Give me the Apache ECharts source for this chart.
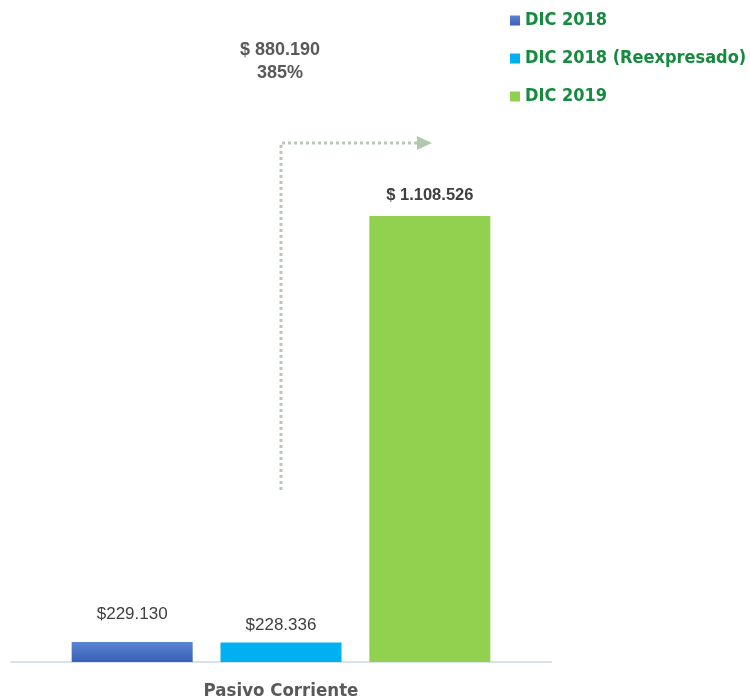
<!DOCTYPE html>
<html>
<head>
<meta charset="utf-8">
<script src="https://cdn.jsdelivr.net/npm/echarts@6/dist/echarts.min.js"></script>
<style>html,body{margin:0;padding:0;background:#fff}#c{width:750px;height:699px}</style>
</head>
<body>
<div id="c"></div>
<script>
var categories = ['Pasivo Corriente'];
var seriesNames = ['DIC 2018', 'DIC 2018 (Reexpresado)', 'DIC 2019'];
var dic2018 = [229130];
var dic2018Re = [228336];
var dic2019 = [1108526];
var labelTexts = ['$229.130', '$228.336', '$ 1.108.526'];
var annotationLines = ['$ 880.190', '385%'];

var chart = echarts.init(document.getElementById('c'));
var labelColor = '#404040';
chart.setOption({
  animation: false,
  legend: {
    orient: 'vertical',
    left: 505,
    top: 5,
    itemWidth: 10,
    itemHeight: 10,
    itemGap: 17,
    icon: 'rect',
    textStyle: { color: '#168A3E', fontSize: 18, fontWeight: 'bold', fontFamily: 'DejaVu Sans Condensed', lineHeight: 21 },
    data: seriesNames
  },
  grid: { left: 11, right: 199, top: 20, bottom: 37, outerBoundsMode: 'none', containLabel: false },
  xAxis: {
    type: 'category',
    data: categories,
    axisLine: { lineStyle: { color: '#D9E1EA', width: 2 } },
    axisTick: { show: false },
    axisLabel: { margin: 20, color: '#595959', fontSize: 18.5, fontWeight: 'bold', fontFamily: 'DejaVu Sans Condensed' }
  },
  yAxis: { type: 'value', min: 188000, max: 1513000, show: false, splitLine: { show: false } },
  series: [
    {
      name: seriesNames[0], type: 'bar', data: dic2018, barWidth: 121, barGap: '23%',
      itemStyle: { color: new echarts.graphic.LinearGradient(0, 0, 0, 1, [{ offset: 0, color: '#5B84D2' }, { offset: 1, color: '#3760B8' }]) },
      label: { show: true, position: 'top', distance: 19, formatter: labelTexts[0], color: labelColor, fontSize: 17, fontFamily: 'Liberation Sans' }
    },
    {
      name: seriesNames[1], type: 'bar', data: dic2018Re, barWidth: 121, barGap: '23%',
      itemStyle: { color: '#00B0F0' },
      label: { show: true, position: 'top', distance: 9, formatter: labelTexts[1], color: labelColor, fontSize: 17, fontFamily: 'Liberation Sans' }
    },
    {
      name: seriesNames[2], type: 'bar', data: dic2019, barWidth: 121, barGap: '23%',
      itemStyle: { color: '#92D050' },
      label: { show: true, position: 'top', distance: 12, formatter: labelTexts[2], color: labelColor, fontSize: 16.5, fontWeight: 'bold', fontFamily: 'Liberation Sans' }
    }
  ],
  graphic: [
    { type: 'text', style: { text: annotationLines[0] + '\n' + annotationLines[1], x: 280, y: 62, align: 'center', verticalAlign: 'middle', fill: '#595959', font: 'bold 18px "Liberation Sans"', lineHeight: 23 } },
    { type: 'polyline', shape: { points: [[281, 490], [281, 143], [418, 143]] }, style: { stroke: '#B5C9B5', lineWidth: 3, lineDash: [3, 3], fill: null } },
    { type: 'polygon', shape: { points: [[417, 136], [432, 143], [417, 150]] }, style: { fill: '#B0C8B0' } }
  ]
});
</script>
</body>
</html>
